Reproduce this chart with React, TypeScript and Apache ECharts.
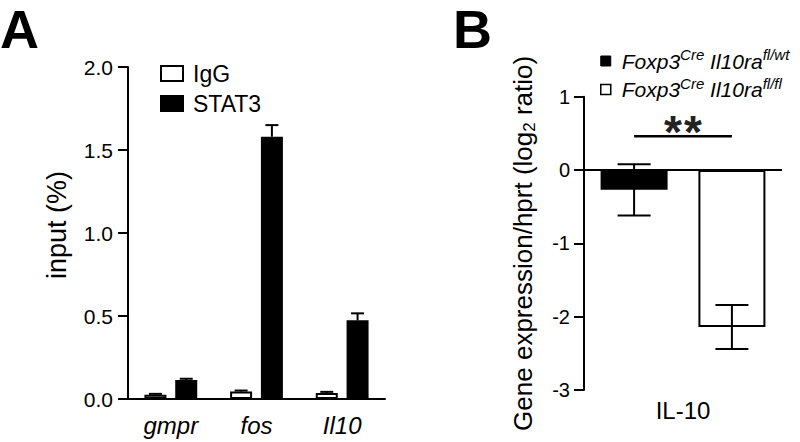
import React, { useEffect, useRef } from "react";
import * as echarts from "echarts";

const FONT = "'Liberation Sans', Arial, Helvetica, sans-serif";

// Panel A data
const catsA = ["gmpr", "fos", "Il10"];
const iggValues = [0.025, 0.045, 0.036];
const iggSem = [0.006, 0.006, 0.007];
const stat3Values = [0.115, 1.58, 0.474];
const stat3Sem = [0.007, 0.07, 0.042];
const yTicksA = { min: 0, max: 2, interval: 0.5 };

// Panel B data
const catsB = ["IL-10"];
const nameWt = "Foxp3Cre Il10ra fl/wt";
const nameFl = "Foxp3Cre Il10ra fl/fl";
const wtValues = [-0.27];
const wtSem = [0.35];
const flValues = [-2.14];
const flSem = [0.3];
const yTicksB = { min: -3, max: 1, interval: 1 };
const sigLevel = 0.46;
const sigStars = ["*", "*"];

const BAR_A = 22;
const GAP_A = 0.4;
const BAR_B = 67;
const GAP_B = 0.46;

export default function App() {
  const ref = useRef<HTMLDivElement>(null);
  useEffect(() => {
    document.body.style.margin = "0";
    const chart = echarts.init(ref.current!, null, { renderer: "svg" });
    const offA = (BAR_A * (1 + GAP_A)) / 2;
    const offB = (BAR_B * (1 + GAP_B)) / 2;
    const black = "#000";
    const errA = (off: number) => (params: any, api: any) => {
      const i = api.value(0);
      const base = api.coord([i, api.value(1)]);
      const top = api.coord([i, api.value(2)]);
      const x = base[0] + off;
      const st = { stroke: black, lineWidth: 2 };
      return {
        type: "group",
        children: [
          { type: "line", shape: { x1: x, y1: base[1], x2: x, y2: top[1] }, style: st },
          { type: "line", shape: { x1: x - 6.5, y1: top[1], x2: x + 6.5, y2: top[1] }, style: st },
        ],
      };
    };
    const errB = (off: number) => (params: any, api: any) => {
      const i = api.value(0);
      const lo = api.coord([i, api.value(1)]);
      const hi = api.coord([i, api.value(2)]);
      const x = lo[0] + off;
      const st = { stroke: black, lineWidth: 2 };
      return {
        type: "group",
        children: [
          { type: "line", shape: { x1: x, y1: lo[1], x2: x, y2: hi[1] }, style: st },
          { type: "line", shape: { x1: x - 16.5, y1: lo[1], x2: x + 16.5, y2: lo[1] }, style: st },
          { type: "line", shape: { x1: x - 16.5, y1: hi[1], x2: x + 16.5, y2: hi[1] }, style: st },
        ],
      };
    };
    const legendRich = {
      it: { fontSize: 21, fontStyle: "italic", color: black, lineHeight: 28, fontFamily: FONT },
      sup: { fontSize: 15, fontStyle: "italic", color: black, lineHeight: 15, verticalAlign: "top", fontFamily: FONT },
    };
    const fmtB = (n: string) =>
      n === nameWt
        ? "{it|Foxp3}{sup|Cre}{it| Il10ra}{sup|fl/wt}"
        : "{it|Foxp3}{sup|Cre}{it| Il10ra}{sup|fl/fl}";

    chart.setOption({
      animation: false,
      textStyle: { fontFamily: FONT },
      graphic: [
        { type: "text", left: 0, top: 2, style: { text: "A", font: `bold 54px ${FONT}`, fill: black } },
        { type: "text", left: 453, top: 2, style: { text: "B", font: `bold 54px ${FONT}`, fill: black } },
      ],
      legend: [
        {
          orient: "vertical",
          left: 155,
          top: 56,
          itemWidth: 22,
          itemHeight: 15,
          itemGap: 5,
          icon: "rect",
          textStyle: { fontSize: 23, color: black, lineHeight: 25, padding: [0, 0, 0, 5] },
          data: [
            { name: "IgG", itemStyle: { color: "#fff", borderColor: black, borderWidth: 2 } },
            { name: "STAT3", itemStyle: { color: black, borderColor: black, borderWidth: 2 } },
          ],
        },
        {
          orient: "vertical",
          left: 595,
          top: 42,
          itemWidth: 10,
          itemHeight: 10,
          itemGap: 4,
          icon: "rect",
          formatter: fmtB,
          textStyle: { color: black, padding: [0, 0, 0, 6], rich: legendRich },
          data: [
            { name: nameWt, itemStyle: { color: black, borderColor: black, borderWidth: 1 } },
            { name: nameFl, itemStyle: { color: "#fff", borderColor: black, borderWidth: 1.5 } },
          ],
        },
      ],
      grid: [
        { left: 128, top: 67, width: 257, height: 332 },
        { left: 584, top: 96.7, width: 198, height: 293.3 },
      ],
      xAxis: [
        {
          gridIndex: 0,
          type: "category",
          data: catsA,
          axisLine: { lineStyle: { color: black, width: 2 } },
          axisTick: { alignWithLabel: true, length: 8, lineStyle: { color: black, width: 2 } },
          axisLabel: { fontSize: 24, fontStyle: "italic", color: black, margin: 14 },
        },
        {
          gridIndex: 1,
          type: "category",
          data: catsB,
          position: "bottom",
          axisLine: { show: false, onZero: false },
          axisTick: { show: false },
          axisLabel: { fontSize: 24, color: black, margin: 8 },
        },
      ],
      yAxis: [
        {
          gridIndex: 0,
          type: "value",
          ...yTicksA,
          axisLine: { show: true, lineStyle: { color: black, width: 2 } },
          axisTick: { show: true, length: 10, lineStyle: { color: black, width: 2 } },
          splitLine: { show: false },
          axisLabel: { fontSize: 21, color: black, margin: 15, formatter: (v: number) => v.toFixed(1) },
          name: "input (%)",
          nameLocation: "middle",
          nameGap: 58,
          nameTextStyle: { fontSize: 27, color: black, padding: [0, 0, 0, 16] },
        },
        {
          gridIndex: 1,
          type: "value",
          ...yTicksB,
          axisLine: { show: true, lineStyle: { color: black, width: 2 } },
          axisTick: { show: true, length: 10, lineStyle: { color: black, width: 2 } },
          splitLine: { show: false },
          axisLabel: { fontSize: 20, color: black, margin: 14 },
          name: "{a|Gene expression/hprt (log}{s|2}{a| ratio)}",
          nameLocation: "middle",
          nameGap: 46,
          nameTextStyle: {
            color: black,
            rich: {
              a: { fontSize: 26, color: black, lineHeight: 30, fontFamily: FONT },
              s: { fontSize: 17, color: black, lineHeight: 17, verticalAlign: "bottom", fontFamily: FONT },
            },
          },
        },
      ],
      series: [
        {
          name: "IgG",
          type: "bar",
          xAxisIndex: 0,
          yAxisIndex: 0,
          data: iggValues,
          barWidth: BAR_A,
          barGap: `${GAP_A * 100}%`,
          itemStyle: { color: "#fff", borderColor: black, borderWidth: 2 },
        },
        {
          name: "STAT3",
          type: "bar",
          xAxisIndex: 0,
          yAxisIndex: 0,
          data: stat3Values,
          barWidth: BAR_A,
          barGap: `${GAP_A * 100}%`,
          itemStyle: { color: black, borderColor: black, borderWidth: 2 },
        },
        {
          type: "custom",
          xAxisIndex: 0,
          yAxisIndex: 0,
          z: 5,
          renderItem: errA(-offA),
          data: catsA.map((_, i) => [i, iggValues[i], iggValues[i] + iggSem[i]]),
        },
        {
          type: "custom",
          xAxisIndex: 0,
          yAxisIndex: 0,
          z: 5,
          renderItem: errA(offA),
          data: catsA.map((_, i) => [i, stat3Values[i], stat3Values[i] + stat3Sem[i]]),
        },
        {
          name: nameWt,
          type: "bar",
          xAxisIndex: 1,
          yAxisIndex: 1,
          data: wtValues,
          barWidth: BAR_B,
          barGap: `${GAP_B * 100}%`,
          itemStyle: { color: black, borderColor: black, borderWidth: 2 },
          markLine: {
            silent: true,
            symbol: "none",
            label: { show: false },
            lineStyle: { color: black, width: 2, type: "solid" },
            data: [{ yAxis: 0 }],
          },
        },
        {
          name: nameFl,
          type: "bar",
          xAxisIndex: 1,
          yAxisIndex: 1,
          data: flValues,
          barWidth: BAR_B,
          barGap: `${GAP_B * 100}%`,
          itemStyle: { color: "#fff", borderColor: black, borderWidth: 2 },
        },
        {
          type: "custom",
          xAxisIndex: 1,
          yAxisIndex: 1,
          z: 5,
          renderItem: errB(-offB),
          data: catsB.map((_, i) => [i, wtValues[i] - wtSem[i], wtValues[i] + wtSem[i]]),
        },
        {
          type: "custom",
          xAxisIndex: 1,
          yAxisIndex: 1,
          z: 5,
          renderItem: errB(offB),
          data: catsB.map((_, i) => [i, flValues[i] - flSem[i], flValues[i] + flSem[i]]),
        },
        {
          type: "custom",
          xAxisIndex: 1,
          yAxisIndex: 1,
          z: 5,
          renderItem: (params: any, api: any) => {
            const p = api.coord([api.value(0), api.value(1)]);
            const stars = sigStars.map((s, k) => ({
              type: "text",
              style: {
                text: s,
                x: p[0] + (k - (sigStars.length - 1) / 2) * 20,
                y: p[1] - 4,
                align: "center",
                verticalAlign: "middle",
                font: `bold 46px ${FONT}`,
                fill: "#222",
              },
            }));
            return {
              type: "group",
              children: [
                {
                  type: "line",
                  shape: { x1: p[0] - offB, y1: p[1], x2: p[0] + offB, y2: p[1] },
                  style: { stroke: black, lineWidth: 2.5 },
                },
                ...stars,
              ],
            };
          },
          data: [[0, sigLevel]],
        },
      ],
    });
    return () => chart.dispose();
  }, []);
  return <div ref={ref} style={{ width: 800, height: 442 }} />;
}
